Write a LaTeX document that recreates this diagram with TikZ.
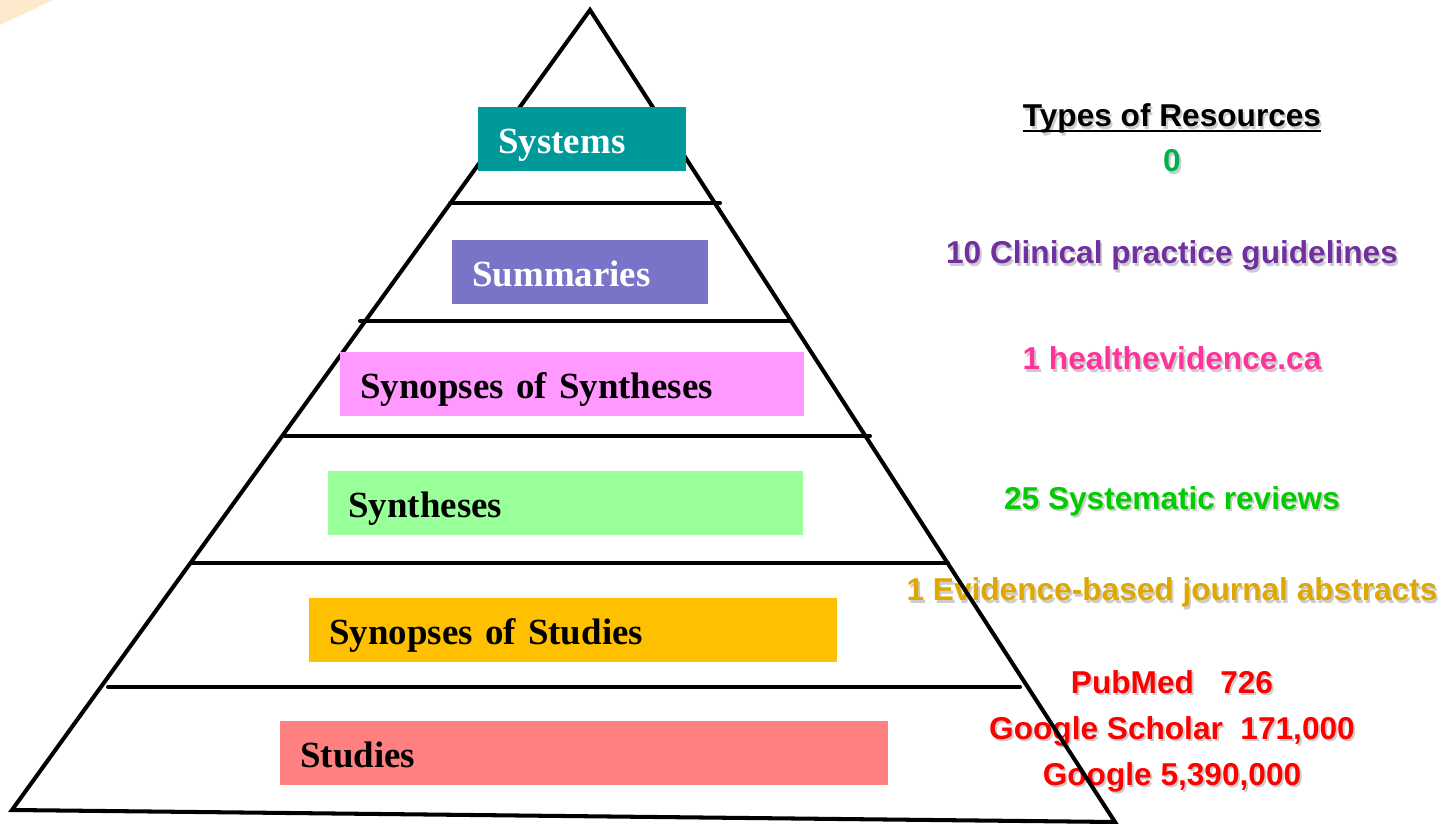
\documentclass[tikz,border=0pt]{standalone}
\usepackage{fontspec}
\setmainfont{Liberation Serif}
\newfontfamily\resfont{Liberation Sans}
\usetikzlibrary{positioning}

\definecolor{sysfill}{RGB}{0,153,153}
\definecolor{sumfill}{RGB}{122,116,200}
\definecolor{synsynfill}{RGB}{255,153,255}
\definecolor{synfill}{RGB}{153,255,153}
\definecolor{synstudfill}{RGB}{255,192,0}
\definecolor{studfill}{RGB}{255,128,128}
\definecolor{zerotxt}{RGB}{0,176,80}
\definecolor{guidetxt}{RGB}{112,48,160}
\definecolor{healthtxt}{RGB}{255,51,153}
\definecolor{revtxt}{RGB}{0,204,0}
\definecolor{abstxt}{RGB}{222,168,0}
\definecolor{cornerfill}{RGB}{255,233,204}
\newcommand{\shadowed}[1]{\leavevmode\rlap{\kern1.1pt\raisebox{-1.4pt}{\textcolor{black!20}{#1}}}#1}

\begin{document}
\begin{tikzpicture}[x=0.02cm, y=-0.02cm,
	edge/.style={line width=2.3pt, line cap=round},
	tier/.style={fill=#1, anchor=north west, inner xsep=0.4cm, inner ysep=0pt,
		minimum height=1.27cm, text height=0.57cm, text depth=0pt, align=left,
		font=\fontsize{21}{24}\selectfont\bfseries},
	res/.style={text=#1, anchor=base, inner sep=0pt,
		font=\resfont\fontsize{18}{20}\selectfont\bfseries}]
	\useasboundingbox (0,0) rectangle (1445,824);
	\fill[cornerfill] (0,0) -- (53,0) -- (0,25) -- cycle;

	% resources column
	\node[res=black] (title) at (1172,127) {\shadowed{Types of Resources}};
	\draw[line width=1.7pt] ([yshift=-0.08cm]title.base west) -- ([yshift=-0.08cm]title.base east);
	\node[res=zerotxt] (zero) at (1172,172) {\shadowed{0}};
	\node[res=guidetxt] (guides) at (1172,264) {\shadowed{10 Clinical practice guidelines}};
	\node[res=healthtxt] (health) at (1172,370) {\shadowed{1 healthevidence.ca}};
	\node[res=revtxt] (reviews) at (1172,509) {\shadowed{25 Systematic reviews}};
	\node[res=abstxt] (abstracts) at (1172,601) {\shadowed{1 Evidence-based journal abstracts}};
	\node[res=red] (pubmed) at (1172,693) {\shadowed{PubMed\ \ \ 726}};
	\node[res=red] (scholar) at (1172,739) {\shadowed{Google Scholar\ \ 171,000}};
	\node[res=red] (google) at (1172,785) {\shadowed{Google 5,390,000}};

	% pyramid
	\draw[edge] (590,10) -- (12,810) -- (1115,822) -- cycle;
	\draw[edge] (450,203) -- (720,203);
	\draw[edge] (360,321) -- (790,321);
	\draw[edge] (285,436) -- (870,436);
	\draw[edge] (192,563) -- (948,563);
	\draw[edge] (108,687) -- (1020,687);

	% tiers
	\node[tier=sysfill, text=white, text width=3.36cm] (systems) at (478,107) {Systems};
	\node[tier=sumfill, text=white, text width=4.32cm] (summaries) at (452,240) {Summaries};
	\node[tier=synsynfill, text width=8.48cm] (synsyn) at (340,352) {Synopses of Syntheses};
	\node[tier=synfill, text width=8.7cm] (syntheses) at (328,471) {Syntheses};
	\node[tier=synstudfill, text width=9.76cm] (synstud) at (309,598) {Synopses of Studies};
	\node[tier=studfill, text width=11.36cm] (studies) at (280,721) {Studies};
\end{tikzpicture}
\end{document}
